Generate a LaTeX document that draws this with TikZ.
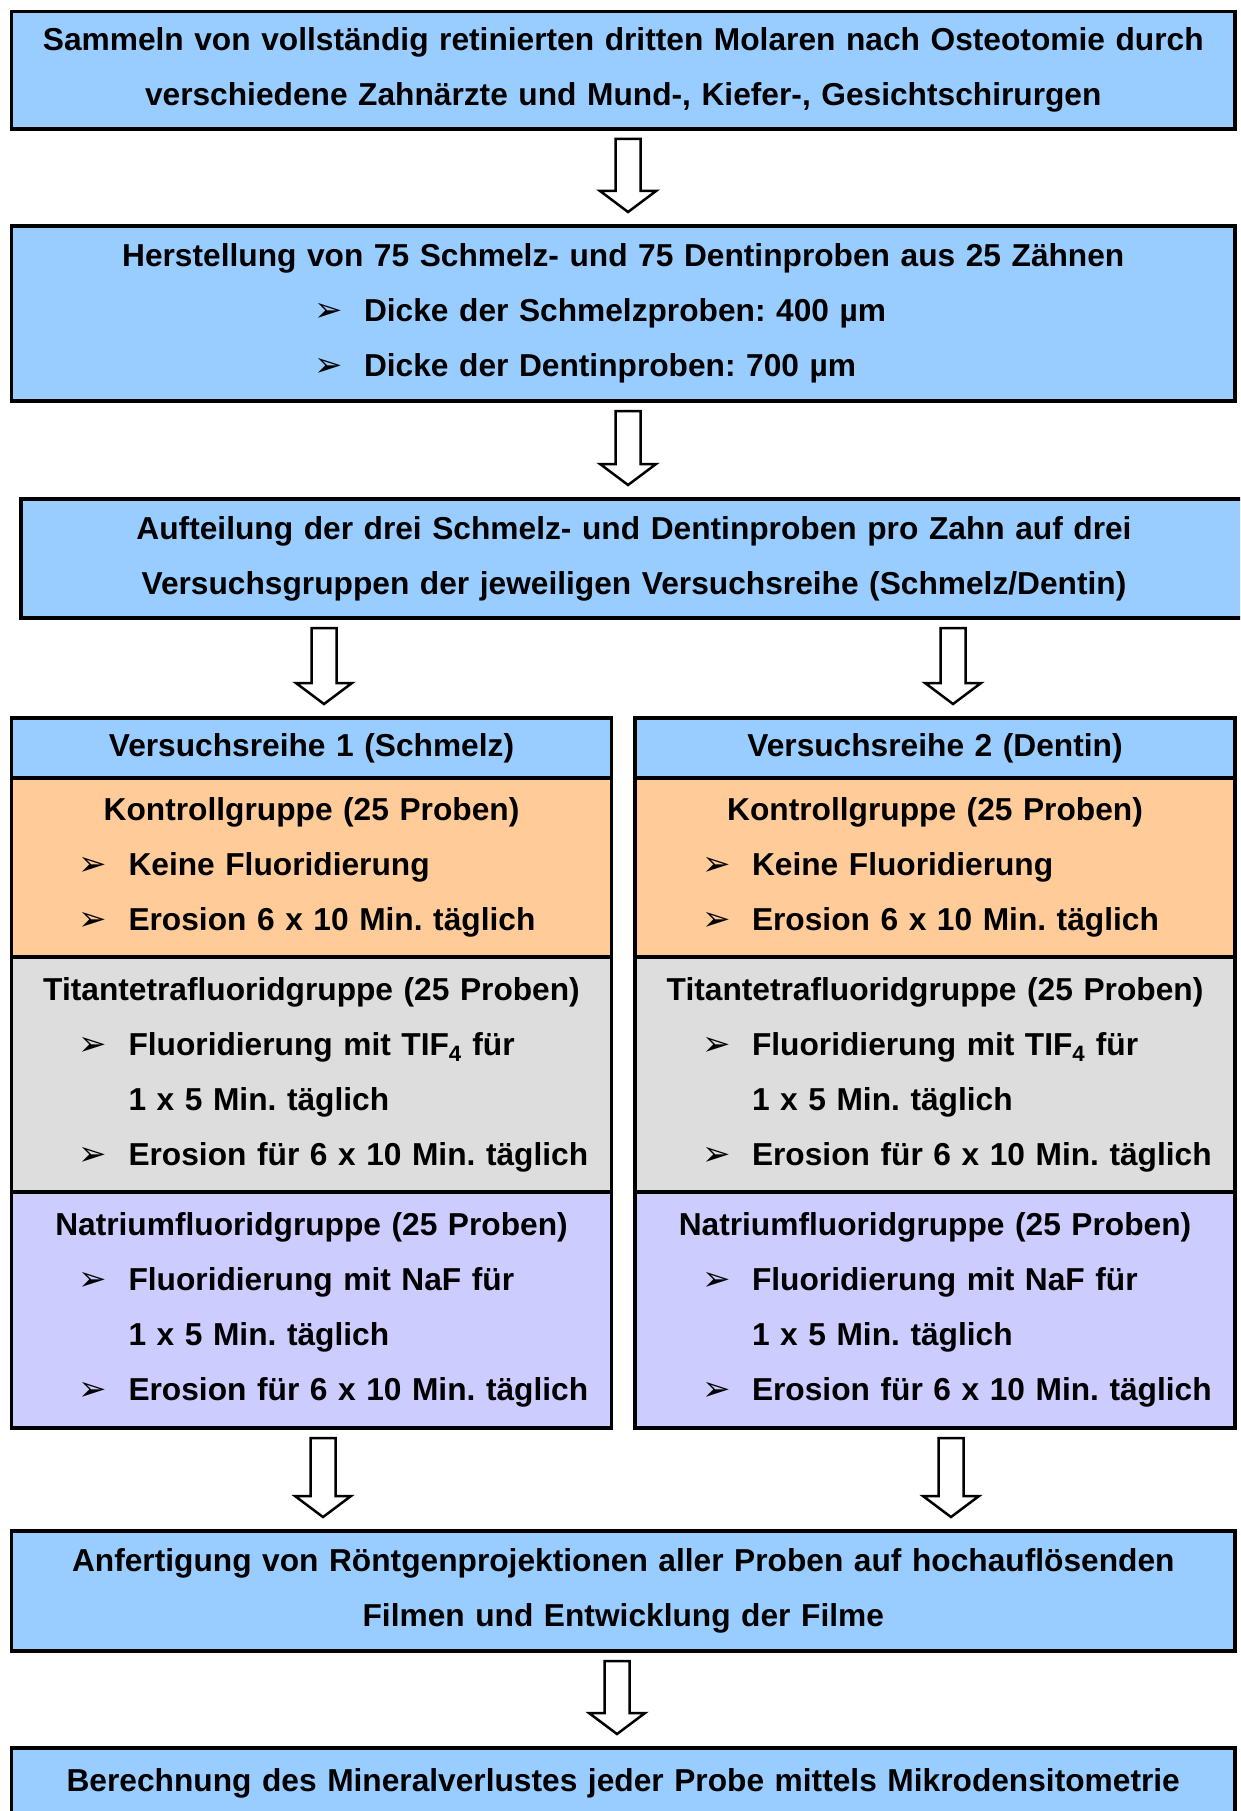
\documentclass[tikz,border=0pt]{standalone}
\usepackage{fontspec}
\setmainfont{Liberation Sans}
\newfontfamily\dejavu{DejaVu Sans}
\usetikzlibrary{positioning,calc}
\definecolor{hellblau}{HTML}{99CCFF}
\definecolor{apricot}{HTML}{FFCC99}
\definecolor{hellgrau}{HTML}{DDDDDD}
\definecolor{flieder}{HTML}{CCCCFF}
\frenchspacing
% Aufzaehlungszeichen und Zeilen
\newcommand\pfeil{{\dejavu\fontsize{34}{34}\selectfont ➢}}
\newcommand\punkt[2][67pt]{\makebox[\hsize][l]{\hspace*{#1}\makebox[50pt][l]{\pfeil}#2}}
\newcommand\weiter[2][117pt]{\makebox[\hsize][l]{\hspace*{#1}#2}}
% Blockpfeil zwischen zwei Kaesten
\newcommand\blockpfeil[3]{%
  \draw[hohlpfeil] let \p1=(#2.south), \p2=(#3.north) in
    (#1pt-12.5pt,\y1-10pt) -- (#1pt-12.5pt,\y2+35pt) -- (#1pt-28pt,\y2+35pt)
    -- (#1pt,\y2+14pt) -- (#1pt+28pt,\y2+35pt) -- (#1pt+12.5pt,\y2+35pt)
    -- (#1pt+12.5pt,\y1-10pt) -- cycle;}
\tikzset{
  kasten/.style={draw=black,line width=3.5pt,inner xsep=0pt,inner ysep=0pt,
                 outer sep=0pt,align=center,anchor=north west},
  breit/.style={kasten,fill=hellblau,text width=1223.5pt},
  spalte/.style={kasten,text width=600pt},
  hohlpfeil/.style={draw=black,fill=white,line width=2.5pt,line join=miter},
}
\begin{document}
\begin{tikzpicture}[x=1pt,y=1pt,font=\fontsize{31.7}{55}\selectfont\bfseries]
  \useasboundingbox (0,0) rectangle (1240,-1811);
  \clip (0,0) rectangle (1240,-1811);
  % Ablauf oben
  \node[breit,minimum height=117.5pt] (sammeln) at (11.5,-11.5)
    {Sammeln von vollständig retinierten dritten Molaren nach Osteotomie durch\\
     verschiedene Zahnärzte und Mund-, Kiefer-, Gesichtschirurgen};
  \node[breit,minimum height=175pt] (herstellung) at (11.5,-226)
    {Herstellung von 75 Schmelz- und 75 Dentinproben aus 25 Zähnen\\
     \punkt[302.5pt]{Dicke der Schmelzproben: 400 µm}\\
     \punkt[302.5pt]{Dicke der Dentinproben: 700 µm}};
  \node[breit,text width=1226pt,minimum height=119pt] (aufteilung) at (21,-499)
    {Aufteilung der drei Schmelz- und Dentinproben pro Zahn auf drei\\
     Versuchsgruppen der jeweiligen Versuchsreihe (Schmelz/Dentin)};
  % Versuchsreihe 1
  \node[spalte,fill=hellblau,minimum height=60pt] (reihe1) at (11.5,-718)
    {Versuchsreihe 1 (Schmelz)};
  \node[spalte,fill=apricot,minimum height=179pt,below=0pt of reihe1] (kontrolle1)
    {Kontrollgruppe (25 Proben)\\
     \punkt{Keine Fluoridierung}\\
     \punkt{Erosion 6 x 10 Min. täglich}};
  \node[spalte,fill=hellgrau,minimum height=235pt,below=0pt of kontrolle1] (titan1)
    {Titantetrafluoridgruppe (25 Proben)\\
     \punkt{Fluoridierung mit TIF\textsubscript{4} für}\\
     \weiter{1 x 5 Min. täglich}\\
     \punkt{Erosion für 6 x 10 Min. täglich}};
  \node[spalte,fill=flieder,minimum height=236pt,below=0pt of titan1] (natrium1)
    {Natriumfluoridgruppe (25 Proben)\\
     \punkt{Fluoridierung mit NaF für}\\
     \weiter{1 x 5 Min. täglich}\\
     \punkt{Erosion für 6 x 10 Min. täglich}};
  % Versuchsreihe 2
  \node[spalte,fill=hellblau,minimum height=60pt] (reihe2) at (635,-718)
    {Versuchsreihe 2 (Dentin)};
  \node[spalte,fill=apricot,minimum height=179pt,below=0pt of reihe2] (kontrolle2)
    {Kontrollgruppe (25 Proben)\\
     \punkt{Keine Fluoridierung}\\
     \punkt{Erosion 6 x 10 Min. täglich}};
  \node[spalte,fill=hellgrau,minimum height=235pt,below=0pt of kontrolle2] (titan2)
    {Titantetrafluoridgruppe (25 Proben)\\
     \punkt{Fluoridierung mit TIF\textsubscript{4} für}\\
     \weiter{1 x 5 Min. täglich}\\
     \punkt{Erosion für 6 x 10 Min. täglich}};
  \node[spalte,fill=flieder,minimum height=236pt,below=0pt of titan2] (natrium2)
    {Natriumfluoridgruppe (25 Proben)\\
     \punkt{Fluoridierung mit NaF für}\\
     \weiter{1 x 5 Min. täglich}\\
     \punkt{Erosion für 6 x 10 Min. täglich}};
  % Auswertung
  \node[breit,minimum height=120pt] (roentgen) at (11.5,-1531)
    {Anfertigung von Röntgenprojektionen aller Proben auf hochauflösenden\\
     Filmen und Entwicklung der Filme};
  \node[breit,minimum height=70pt] (berechnung) at (11.5,-1748)
    {Berechnung des Mineralverlustes jeder Probe mittels Mikrodensitometrie};
  % Pfeile
  \blockpfeil{628}{sammeln}{herstellung}
  \blockpfeil{628}{herstellung}{aufteilung}
  \blockpfeil{324}{aufteilung}{reihe1}
  \blockpfeil{953}{aufteilung}{reihe2}
  \blockpfeil{323}{natrium1}{roentgen}
  \blockpfeil{951}{natrium2}{roentgen}
  \blockpfeil{617}{roentgen}{berechnung}
\end{tikzpicture}
\end{document}
